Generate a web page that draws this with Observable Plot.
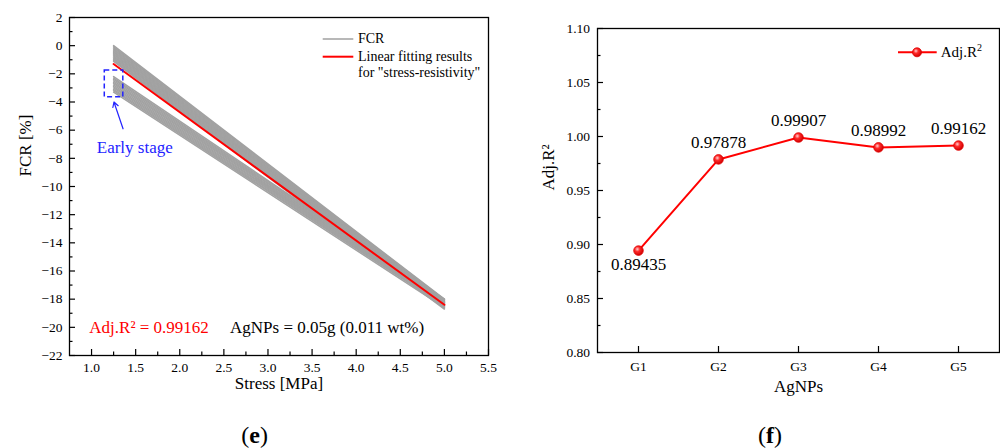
<!DOCTYPE html>
<html>
<head>
<meta charset="utf-8">
<script src="https://cdn.jsdelivr.net/npm/d3@7"></script>
<script src="https://cdn.jsdelivr.net/npm/@observablehq/plot@0.6"></script>
<style>
  html, body { margin: 0; padding: 0; background: white; }
  #page { position: relative; width: 1000px; height: 448px; font-family: "Liberation Serif", "DejaVu Serif", serif; color: black; overflow: hidden; }
  .panel { position: absolute; top: 0; }
  .legend-item { position: absolute; font-size: 14px; line-height: 16px; white-space: nowrap; }
  .caption { position: absolute; font-size: 24px; transform: translate(-50%, -50%); white-space: nowrap; }
</style>
</head>
<body>
<div id="page">
  <div id="left" class="panel" style="left:0px"></div>
  <div id="right" class="panel" style="left:500px"></div>
</div>
<script>
// ---------- Data: panel (e) ----------
const cycleStress = [1.25, 5.0];                 // stress at start / end of each FCR cycle [MPa]
const upperStart = [0.0, -0.08, -0.16, -0.24, -0.32, -0.4, -0.48, -0.56, -0.64, -0.72, -0.8, -0.88, -0.96, -1.04, -1.12];
const upperEnd   = [-18.0, -18.05, -18.1, -18.15, -18.2, -18.25, -18.3, -18.35, -18.4, -18.45, -18.5, -18.55, -18.6, -18.65, -18.7];
const lowerStart = [-2.2, -2.3, -2.4, -2.5, -2.6, -2.7, -2.8, -2.9, -3.0, -3.1, -3.2, -3.3];
const lowerEnd   = [-18.0, -18.05, -18.1, -18.15, -18.2, -18.25, -18.3, -18.35, -18.4, -18.45, -18.5, -18.6];
const fitStress = [1.25, 5.0];
const fitFCR = [-1.3, -18.4];
const xTicksE = [1.0, 1.5, 2.0, 2.5, 3.0, 3.5, 4.0, 4.5, 5.0, 5.5];
const xMinorE = [1.25, 1.75, 2.25, 2.75, 3.25, 3.75, 4.25, 4.75, 5.25];
const yTicksE = [-22, -20, -18, -16, -14, -12, -10, -8, -6, -4, -2, 0, 2];
const yMinorE = [-21, -19, -17, -15, -13, -11, -9, -7, -5, -3, -1, 1];

// ---------- Data: panel (f) ----------
const groups = ["G1", "G2", "G3", "G4", "G5"];
const adjR2 = [0.89435, 0.97878, 0.99907, 0.98992, 0.99162];
const yTicksF = [0.80, 0.85, 0.90, 0.95, 1.00, 1.05, 1.10];
const yMinorF = [0.825, 0.875, 0.925, 0.975, 1.025, 1.075];

// annotations (data coordinates)
const earlyBox = [{x1: 1.15, x2: 1.36, y1: -1.76, y2: -3.66}];
const earlyArrow = [{x1: 1.357, y1: -5.9, x2: 1.254, y2: -4.0}];
const earlyLabel = [{x: 1.49, y: -7.25, text: "Early stage"}];
const noteRed = [{x: 0.975, y: -20, text: "Adj.R² = 0.99162"}];
const noteBlack = [{x: 2.57, y: -20, text: "AgNPs = 0.05g (0.011 wt%)"}];

// ---------- build tables ----------
const fcrRows = [];
upperStart.forEach((s, i) => {
  fcrRows.push({cycle: "u" + i, stress: cycleStress[0], fcr: s});
  fcrRows.push({cycle: "u" + i, stress: cycleStress[1], fcr: upperEnd[i]});
});
lowerStart.forEach((s, i) => {
  fcrRows.push({cycle: "l" + i, stress: cycleStress[0], fcr: s});
  fcrRows.push({cycle: "l" + i, stress: cycleStress[1], fcr: lowerEnd[i]});
});
const fitRows = fitStress.map((s, i) => ({stress: s, fcr: fitFCR[i]}));
const r2Rows = groups.map((g, i) => ({group: g, r2: adjR2[i]}));

const blue = "#2323ff";
const fontFam = "'Liberation Serif', 'DejaVu Serif', serif";

const left = Plot.plot({
  width: 500, height: 400,
  marginLeft: 69, marginRight: 12, marginTop: 17, marginBottom: 45,
  style: {fontFamily: fontFam, fontSize: "13.5px", color: "black", background: "white", overflow: "visible"},
  x: {domain: [0.75, 5.5]},
  y: {domain: [-22, 2]},
  marks: [
    Plot.line(fcrRows, {x: "stress", y: "fcr", z: "cycle", stroke: "#a2a2a2", strokeWidth: 1.5}),
    Plot.line(fitRows, {x: "stress", y: "fcr", stroke: "#ff0000", strokeWidth: 2}),
    Plot.rect(earlyBox, {x1: "x1", x2: "x2", y1: "y1", y2: "y2", fill: "none", stroke: blue, strokeWidth: 1.5, strokeDasharray: "5,3"}),
    Plot.arrow(earlyArrow, {x1: "x1", y1: "y1", x2: "x2", y2: "y2", stroke: blue, strokeWidth: 1.2, headLength: 7}),
    Plot.text(earlyLabel, {x: "x", y: "y", text: "text", fill: blue, fontSize: 17}),
    Plot.text(noteRed, {x: "x", y: "y", text: "text", fill: "#ff0000", fontSize: 17, textAnchor: "start"}),
    Plot.text(noteBlack, {x: "x", y: "y", text: "text", fill: "black", fontSize: 17, textAnchor: "start"}),
    Plot.axisX({ticks: xTicksE, tickSize: -6, tickPadding: 13, tickFormat: d3.format(".1f"), strokeWidth: 1.2, label: null}),
    Plot.axisX({ticks: xMinorE, tickSize: -3.5, tickFormat: () => "", strokeWidth: 1.2, label: null}),
    Plot.axisY({ticks: yTicksE, tickSize: -6, tickPadding: 13, tickFormat: d3.format("d"), strokeWidth: 1.2, label: null}),
    Plot.axisY({ticks: yMinorE, tickSize: -3.5, tickFormat: () => "", strokeWidth: 1.2, label: null}),
    Plot.text(["Stress [MPa]"], {frameAnchor: "bottom", dy: 33, fontSize: 17, text: d => d}),
    Plot.text(["FCR [%]"], {frameAnchor: "left", dx: -44, dy: -10, rotate: -90, fontSize: 17, text: d => d}),
    Plot.frame({stroke: "black", strokeWidth: 1.3})
  ]
});
document.getElementById("left").appendChild(left);

const ballDefs = () => {
  const defs = d3.create("svg:defs");
  const g = defs.append("radialGradient").attr("id", "agBall").attr("cx", "38%").attr("cy", "35%").attr("r", "65%");
  g.append("stop").attr("offset", "0%").attr("stop-color", "#ffd0d0");
  g.append("stop").attr("offset", "40%").attr("stop-color", "#ff2a2a");
  g.append("stop").attr("offset", "100%").attr("stop-color", "#d00000");
  return defs.node();
};

const right = Plot.plot({
  width: 500, height: 400,
  marginLeft: 97, marginRight: 1, marginTop: 28, marginBottom: 48,
  style: {fontFamily: fontFam, fontSize: "13.5px", color: "black", background: "white", overflow: "visible"},
  x: {type: "point", domain: groups, padding: 0.5},
  y: {domain: [0.80, 1.10]},
  marks: [
    ballDefs,
    Plot.line(r2Rows, {x: "group", y: "r2", stroke: "#ff0000", strokeWidth: 2}),
    Plot.dot(r2Rows, {x: "group", y: "r2", r: 4.8, fill: "url(#agBall)", stroke: "#e00000", strokeWidth: 0.8}),
    Plot.text(r2Rows.filter((d, i) => i > 0), {x: "group", y: "r2", text: d => d.r2.toFixed(5), dy: -17, fontSize: 17}),
    Plot.text(r2Rows.filter((d, i) => i === 0), {x: "group", y: "r2", text: d => d.r2.toFixed(5), dy: 14, fontSize: 17}),
    Plot.axisX({tickSize: -6, tickPadding: 14.5, strokeWidth: 1.2, label: null}),
    Plot.axisY({ticks: yTicksF, tickSize: -6, tickPadding: 13.5, tickFormat: d3.format(".2f"), strokeWidth: 1.2, label: null}),
    Plot.axisY({ticks: yMinorF, tickSize: -3.5, tickFormat: () => "", strokeWidth: 1.2, label: null}),
    Plot.text(["AgNPs"], {frameAnchor: "bottom", dy: 39.5, fontSize: 17, text: d => d}),
    Plot.text(["Adj.R²"], {frameAnchor: "left", dx: -49, rotate: -90, fontSize: 17, text: d => d}),
    Plot.frame({stroke: "black", strokeWidth: 1.3})
  ]
});
document.getElementById("right").appendChild(right);

// ---------- legends & captions (HTML overlays) ----------
const page = document.getElementById("page");
function addHTML(html) { page.insertAdjacentHTML("beforeend", html); }

addHTML(`<svg style="position:absolute;left:0;top:0" width="1000" height="448" pointer-events="none">
  <defs>
    <radialGradient id="agBallLeg" cx="38%" cy="35%" r="65%">
      <stop offset="0%" stop-color="#ffd0d0"/><stop offset="40%" stop-color="#ff2a2a"/><stop offset="100%" stop-color="#d00000"/>
    </radialGradient>
  </defs>
  <line x1="322.7" x2="353.3" y1="39" y2="39" stroke="#a0a0a0" stroke-width="1.5"/>
  <line x1="322.7" x2="353.3" y1="56.7" y2="56.7" stroke="#ff0000" stroke-width="2"/>
  <line x1="898" x2="936.7" y1="52.3" y2="52.3" stroke="#ff0000" stroke-width="2"/>
  <circle cx="917" cy="52.3" r="4.5" fill="url(#agBallLeg)" stroke="#e00000" stroke-width="0.8"/>
</svg>`);
addHTML(`<div class="legend-item" style="left:358px;top:31px">FCR</div>`);
addHTML(`<div class="legend-item" style="left:358px;top:48.7px">Linear fitting results</div>`);
addHTML(`<div class="legend-item" style="left:358px;top:65px">for "stress-resistivity"</div>`);
addHTML(`<div class="legend-item" style="left:940.7px;top:43px;font-size:15px;line-height:18px">Adj.R<sup style="font-size:10px;vertical-align:6px;line-height:0">2</sup></div>`);
addHTML(`<div class="caption" style="left:254.7px;top:435px">(<b>e</b>)</div>`);
addHTML(`<div class="caption" style="left:770px;top:435px">(<b>f</b>)</div>`);
</script>
</body>
</html>
